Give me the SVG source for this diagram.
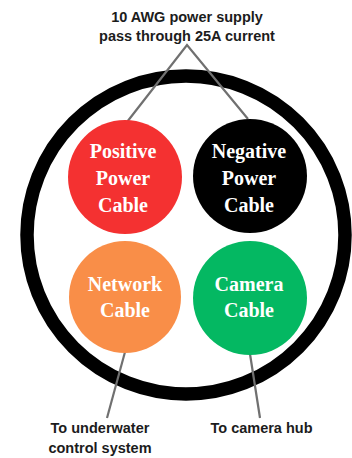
<svg xmlns="http://www.w3.org/2000/svg" width="352" height="458" viewBox="0 0 352 458">
<style>
.lbl{font-family:"Liberation Sans",Arial,sans-serif;font-weight:bold;font-size:14.5px;fill:#1c1c1c;text-anchor:middle}
.ct{font-family:"Liberation Serif","Times New Roman",serif;font-weight:bold;font-size:20px;fill:#ffffff;text-anchor:middle}
.ln{stroke:#707070;stroke-width:2.2;fill:none}
</style>
<rect width="352" height="458" fill="#ffffff"/>
<g id="sheath">
<circle cx="186" cy="235" r="159" fill="none" stroke="#000000" stroke-width="13.5"/>
</g>
<g id="connectors">
<polyline class="ln" points="127,122 187,45 248,119"/>
<line class="ln" x1="125" y1="352" x2="107" y2="418"/>
<line class="ln" x1="250" y1="354" x2="260" y2="418"/>
</g>
<g id="title">
<text class="lbl" x="187" y="22">10 AWG power supply</text>
<text class="lbl" x="187" y="41">pass through 25A current</text>
</g>
<g id="positive">
<circle cx="125" cy="177" r="57" fill="#f43131"/>
<text class="ct" x="123" y="158">Positive</text>
<text class="ct" x="123" y="185">Power</text>
<text class="ct" x="123" y="212">Cable</text>
</g>
<g id="negative">
<circle cx="250" cy="176" r="57" fill="#000000"/>
<text class="ct" x="249" y="158">Negative</text>
<text class="ct" x="249" y="185">Power</text>
<text class="ct" x="249" y="212">Cable</text>
</g>
<g id="network">
<circle cx="125" cy="297" r="56" fill="#f98e48"/>
<text class="ct" x="125" y="291">Network</text>
<text class="ct" x="125" y="317">Cable</text>
</g>
<g id="camera">
<circle cx="250" cy="298" r="57" fill="#04b862"/>
<text class="ct" x="249" y="291">Camera</text>
<text class="ct" x="249" y="317">Cable</text>
</g>
<g id="bottom-labels">
<text class="lbl" x="100" y="433">To underwater</text>
<text class="lbl" x="100" y="453">control system</text>
<text class="lbl" x="261.5" y="433">To camera hub</text>
</g>
</svg>
